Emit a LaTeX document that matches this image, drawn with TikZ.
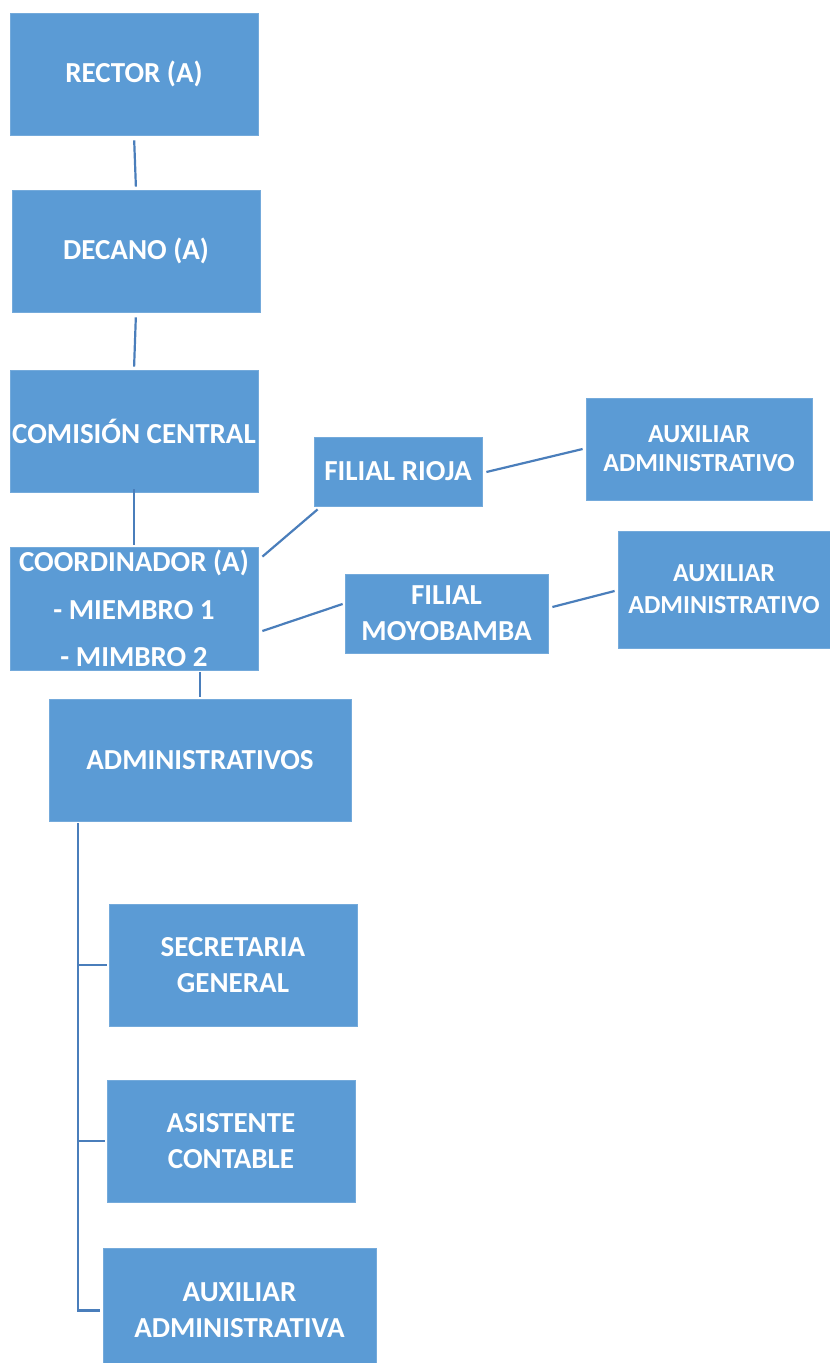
\documentclass[tikz,border=0pt]{standalone}
\usepackage{fontspec}
\setmainfont{Carlito}
\definecolor{boxblue}{HTML}{5B9BD5}
\definecolor{linkblue}{HTML}{4A7EBB}
\begin{document}
\begin{tikzpicture}[x=1pt,y=-1pt,
  box/.style={rectangle, fill=boxblue, draw=boxblue!85!white, line width=0.8pt,
    text=white, align=center, inner sep=0pt, font=\bfseries\fontsize{29}{36}\selectfont},
  link/.style={draw=linkblue, line width=2.2pt}]
\useasboundingbox (0,0) rectangle (830,1363);
\fill[white] (0,0) rectangle (830,1363);

\node[box, minimum width=248pt, minimum height=122pt] (rector) at (134,74) {RECTOR (A)};
\node[box, minimum width=248pt, minimum height=122pt] (decano) at (136,251) {DECANO (A)};
\node[box, minimum width=248pt, minimum height=122pt] (comision) at (134,431) {COMISIÓN CENTRAL};
\node[box, minimum width=248pt, minimum height=123pt, font=\bfseries\fontsize{29}{47.5}\selectfont] (coord) at (134,608.5) {COORDINADOR (A)\\- MIEMBRO 1\\- MIMBRO 2};
\node[box, minimum width=168pt, minimum height=69pt] (rioja) at (398,471.5) {FILIAL RIOJA};
\node[box, minimum width=226pt, minimum height=102pt, font=\bfseries\fontsize{26}{29}\selectfont] (aux1) at (699,449) {AUXILIAR\\ADMINISTRATIVO};
\node[box, minimum width=203pt, minimum height=79pt] (moyo) at (446.5,613.5) {FILIAL\\MOYOBAMBA};
\node[box, minimum width=212pt, minimum height=117pt, font=\bfseries\fontsize{26}{32}\selectfont] (aux2) at (724,589.5) {AUXILIAR\\ADMINISTRATIVO};
\node[box, minimum width=302pt, minimum height=122pt] (admin) at (200,760) {ADMINISTRATIVOS};
\node[box, minimum width=248pt, minimum height=122pt] (secre) at (233,965) {SECRETARIA\\GENERAL};
\node[box, minimum width=248pt, minimum height=122pt] (asist) at (231,1141) {ASISTENTE\\CONTABLE};
\node[box, minimum width=273pt, minimum height=125pt] (auxa) at (239.5,1310.5) {AUXILIAR\\ADMINISTRATIVA};

% vertical chain
\draw[link, shorten <=5pt, shorten >=3pt] (rector.south) -- (decano.north);
\draw[link, shorten <=5pt, shorten >=3pt] (decano.south) -- (comision.north);
\draw[link, shorten <=3pt, shorten >=2pt] (comision.south) -- (coord.south |- comision.south) -- (coord.north);
\draw[link, shorten <=2pt, shorten >=2pt] (admin.north |- coord.south) -- (admin.north);

% branches to filiales
\draw[link] ([shift={(4,10)}]coord.north east) -- ([shift={(4,3)}]rioja.south west);
\draw[link] ([shift={(4,22.5)}]coord.east) -- ([shift={(-2,-9.5)}]moyo.west);
\draw[link] ([shift={(4,0.5)}]rioja.east) -- ([shift={(-3,0)}]aux1.west);
\draw[link] ([shift={(4,-6.5)}]moyo.east) -- ([shift={(-3,1.5)}]aux2.west);

% bracket under administrativos
\coordinate (bx) at ([shift={(29,2)}]admin.south west);
\draw[link] (bx) -- (bx |- auxa.west) -- ([shift={(-3,0)}]auxa.west);
\draw[link] (bx |- secre.west) -- ([shift={(-2,0)}]secre.west);
\draw[link] (bx |- asist.west) -- ([shift={(-2,0)}]asist.west);
\end{tikzpicture}
\end{document}
